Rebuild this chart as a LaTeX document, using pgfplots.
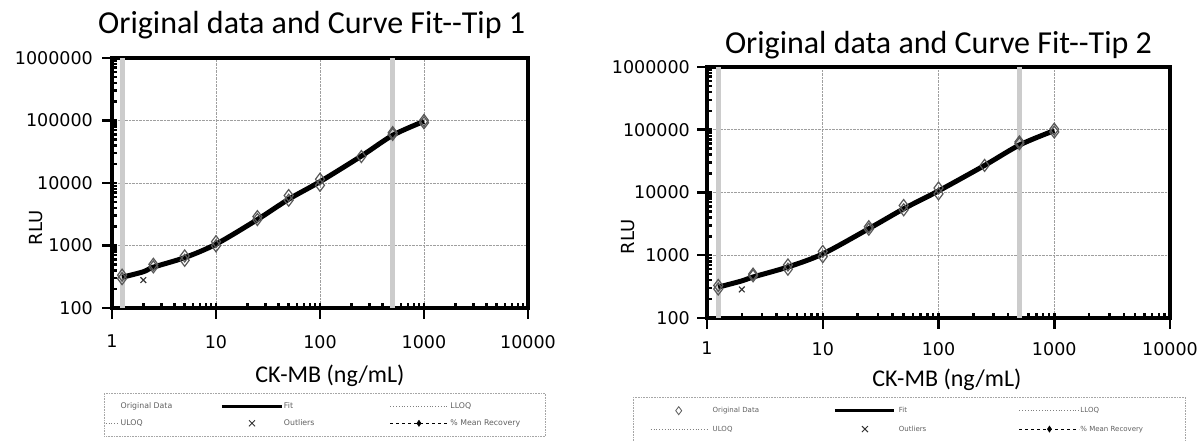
\documentclass[border=0pt]{standalone}
\usepackage{fontspec}
\setmainfont{Carlito}
\newfontfamily\dejavu{DejaVu Sans}
\usepackage{pgfplots}
\usepackage{pgfplotstable}
\pgfplotsset{compat=1.18}

\pgfplotstableread{
x y
1.25 295
1.25 335
2.5 455
2.5 500
5 580
5 680
10 990
10 1150
25 2600
25 2900
50 5300
50 6300
100 9200
100 11500
250 26500
500 60000
500 64000
1000 92000
1000 100000
}\origA
\pgfplotstableread{
x y
1.25 310
2 380
2.5 450
5 640
10 1050
25 2600
50 5500
100 10500
250 27000
500 58000
1000 97000
}\fitA
\pgfplotstableread{
x y
2 280
}\outA
\pgfplotstableread{
x y
1.25 290
1.25 330
2.5 470
2.5 500
5 600
5 700
10 950
10 1150
25 2600
25 2850
50 5300
50 6200
100 9500
100 11800
250 27000
500 60000
500 64000
1000 92000
1000 102000
}\origB
\pgfplotstableread{
x y
1.25 310
2 390
2.5 450
5 650
10 1050
25 2650
50 5500
100 10600
250 27000
500 57000
1000 97000
}\fitB
\pgfplotstableread{
x y
2 285
}\outB
\pgfplotstableread{
x y
1.25 100
1.25 1000000
}\lloq
\pgfplotstableread{
x y
500 100
500 1000000
}\uloq

\begin{document}
\begin{tikzpicture}
\path[use as bounding box] (0pt,0pt) rectangle (1204pt,441pt);

% ---------- Tip 1 ----------
\begin{axis}[
  scale only axis,
  xmode=log, ymode=log,
  xmin=1, xmax=10000, ymin=100, ymax=1000000,
  xtick={1,10,100,1000,10000},
  xticklabels={1,10,100,1000,10000},
  ytick={100,1000,10000,100000,1000000},
  yticklabels={100,1000,10000,100000,1000000},
  tick pos=left,
  tick align=center,
  major tick length=14pt, minor tick length=5pt,
  every tick/.append style={black, line width=2.5pt},
  every minor x tick/.append style={yshift=2.5pt},
  every minor y tick/.append style={xshift=2.5pt},
  every major x tick/.append style={yshift=-4pt},
  every major y tick/.append style={xshift=-3pt},
  axis line style={black, line width=4pt},
  grid=major,
  major grid style={densely dotted, gray!75, line width=0.8pt},
  tick label style={font=\dejavu\fontsize{17.5}{18}\selectfont, inner sep=0pt},
  xticklabel style={anchor=north, yshift=-20pt},
  yticklabel style={anchor=east, xshift=-12pt},
  ylabel={RLU},
  xlabel={CK-MB (ng/mL)},
  legend columns=3,
  legend cell align=left,
  at={(112pt,133pt)}, anchor=south west,
  width=416pt, height=250pt,
  title={Original data and Curve Fit-{}-Tip 1},
  title style={at={(0.48,1)}, anchor=base, yshift=18pt, font=\fontsize{32}{32}\selectfont},
  xlabel style={at={(0.524,0)}, anchor=base, yshift=-75pt, font=\fontsize{24}{24}\selectfont},
  ylabel style={at={(-0.1827,0.32)}, anchor=center, font=\dejavu\fontsize{18}{18}\selectfont},
  legend style={at={(-0.01923,-0.34)}, anchor=north west,
    draw=gray!70, densely dotted, line width=0.6pt,
    font=\dejavu\fontsize{7.8}{8}\selectfont, text=gray!75!black,
    inner xsep=1pt, inner ysep=9pt, row sep=9pt, column sep=0pt,
    nodes={inner sep=0pt, text height=6pt, text depth=2pt}},
]
\addplot[gray!40, line width=5pt, solid, forget plot] table {\lloq};
\addplot[gray!40, line width=5pt, solid, forget plot] table {\uloq};
\addplot[black, line width=5pt, smooth, solid, forget plot] table {\fitA};
\addplot[only marks, mark=diamond, mark size=6pt, mark options={draw=black!65, fill=white, line width=1.2pt, solid}, forget plot] table {\origA};
\addplot[only marks, mark=x, mark size=4pt, mark options={draw=black!80, line width=1.2pt, solid}, forget plot] table {\outA};

\addlegendimage{legend image code/.code={\path[draw=none,fill=none] (0pt,-3pt) rectangle (15pt,3pt);}}
\addlegendentry{\makebox[100pt][l]{Original Data}}
\addlegendimage{legend image code/.code={\path[draw=none,fill=none] (0pt,0pt) -- (62pt,0pt); \draw[black, solid, line width=2.5pt] (0pt,0pt) -- (60pt,0pt);}}
\addlegendentry{\makebox[106pt][l]{Fit}}
\addlegendimage{legend image code/.code={\path[draw=none,fill=none] (0pt,0pt) -- (60pt,0pt); \draw[gray, dotted, line width=0.8pt] (0pt,0pt) -- (57pt,0pt);}}
\addlegendentry{\makebox[94pt][l]{LLOQ}}
\addlegendimage{legend image code/.code={\path[draw=none,fill=none] (0pt,0pt) -- (15pt,0pt); \draw[gray, dotted, line width=0.8pt] (0pt,0pt) -- (12pt,0pt);}}
\addlegendentry{\makebox[100pt][l]{ULOQ}}
\addlegendimage{legend image code/.code={\path[draw=none,fill=none] (0pt,0pt) -- (62pt,0pt); \draw[black!80, solid, line width=0.9pt] (27pt,-3pt) -- (33pt,3pt) (27pt,3pt) -- (33pt,-3pt);}}
\addlegendentry{\makebox[106pt][l]{Outliers}}
\addlegendimage{legend image code/.code={\path[draw=none,fill=none] (0pt,0pt) -- (60pt,0pt); \draw[black, dashed, line width=1pt] (0pt,0pt) -- (57pt,0pt); \fill[black] (28.5pt,3pt) -- (30.5pt,0pt) -- (28.5pt,-3pt) -- (26.5pt,0pt) -- cycle;}}
\addlegendentry{\makebox[94pt][l]{\% Mean Recovery}}
\end{axis}

% ---------- Tip 2 ----------
\begin{axis}[
  scale only axis,
  xmode=log, ymode=log,
  xmin=1, xmax=10000, ymin=100, ymax=1000000,
  xtick={1,10,100,1000,10000},
  xticklabels={1,10,100,1000,10000},
  ytick={100,1000,10000,100000,1000000},
  yticklabels={100,1000,10000,100000,1000000},
  tick pos=left,
  tick align=center,
  major tick length=14pt, minor tick length=5pt,
  every tick/.append style={black, line width=2.5pt},
  every minor x tick/.append style={yshift=2.5pt},
  every minor y tick/.append style={xshift=2.5pt},
  every major x tick/.append style={yshift=-4pt},
  every major y tick/.append style={xshift=-3pt},
  axis line style={black, line width=4pt},
  grid=major,
  major grid style={densely dotted, gray!75, line width=0.8pt},
  tick label style={font=\dejavu\fontsize{17.5}{18}\selectfont, inner sep=0pt},
  xticklabel style={anchor=north, yshift=-17pt},
  yticklabel style={anchor=east, xshift=-10pt},
  ylabel={RLU},
  xlabel={CK-MB (ng/mL)},
  legend columns=3,
  legend cell align=left,
  at={(707pt,123pt)}, anchor=south west,
  width=463pt, height=251pt,
  title={Original data and Curve Fit-{}-Tip 2},
  title style={at={(0.5,1)}, anchor=base, yshift=7pt, font=\fontsize{32}{32}\selectfont},
  xlabel style={at={(0.518,0)}, anchor=base, yshift=-69pt, font=\fontsize{24}{24}\selectfont},
  ylabel style={at={(-0.1706,0.3227)}, anchor=center, font=\dejavu\fontsize{18}{18}\selectfont},
  legend style={at={(-0.1598,-0.3147)}, anchor=north west,
    draw=gray!70, densely dotted, line width=0.6pt,
    font=\dejavu\fontsize{7}{8}\selectfont, text=gray!75!black,
    inner xsep=17pt, inner ysep=9pt, row sep=10pt, column sep=0pt,
    nodes={inner sep=0pt, text height=6pt, text depth=2pt}},
]
\addplot[gray!40, line width=5pt, solid, forget plot] table {\lloq};
\addplot[gray!40, line width=5pt, solid, forget plot] table {\uloq};
\addplot[black, line width=5pt, smooth, solid, forget plot] table {\fitB};
\addplot[only marks, mark=diamond, mark size=6pt, mark options={draw=black!65, fill=white, line width=1.2pt, solid}, forget plot] table {\origB};
\addplot[only marks, mark=x, mark size=4pt, mark options={draw=black!80, line width=1.2pt, solid}, forget plot] table {\outB};

\addlegendimage{legend image code/.code={\path[draw=none,fill=none] (0pt,0pt) -- (62pt,0pt); \draw[black!65, solid, line width=0.8pt, fill=white] (28pt,4pt) -- (31pt,0pt) -- (28pt,-4pt) -- (25pt,0pt) -- cycle;}}
\addlegendentry{\makebox[121pt][l]{Original Data}}
\addlegendimage{legend image code/.code={\path[draw=none,fill=none] (0pt,0pt) -- (64pt,0pt); \draw[black, solid, line width=2.5pt] (0pt,0pt) -- (59pt,0pt);}}
\addlegendentry{\makebox[120pt][l]{Fit}}
\addlegendimage{legend image code/.code={\path[draw=none,fill=none] (0pt,0pt) -- (61pt,0pt); \draw[gray, dotted, line width=0.8pt] (0pt,0pt) -- (60pt,0pt);}}
\addlegendentry{\makebox[88pt][l]{LLOQ}}
\addlegendimage{legend image code/.code={\path[draw=none,fill=none] (0pt,0pt) -- (62pt,0pt); \draw[gray, dotted, line width=0.8pt] (0pt,0pt) -- (58pt,0pt);}}
\addlegendentry{\makebox[121pt][l]{ULOQ}}
\addlegendimage{legend image code/.code={\path[draw=none,fill=none] (0pt,0pt) -- (64pt,0pt); \draw[black!80, solid, line width=0.9pt] (27pt,-3pt) -- (33pt,3pt) (27pt,3pt) -- (33pt,-3pt);}}
\addlegendentry{\makebox[120pt][l]{Outliers}}
\addlegendimage{legend image code/.code={\path[draw=none,fill=none] (0pt,0pt) -- (61pt,0pt); \draw[black, dashed, line width=1pt] (0pt,0pt) -- (60pt,0pt); \fill[black] (30pt,3pt) -- (32pt,0pt) -- (30pt,-3pt) -- (28pt,0pt) -- cycle;}}
\addlegendentry{\makebox[88pt][l]{\% Mean Recovery}}
\end{axis}
\end{tikzpicture}
\end{document}
